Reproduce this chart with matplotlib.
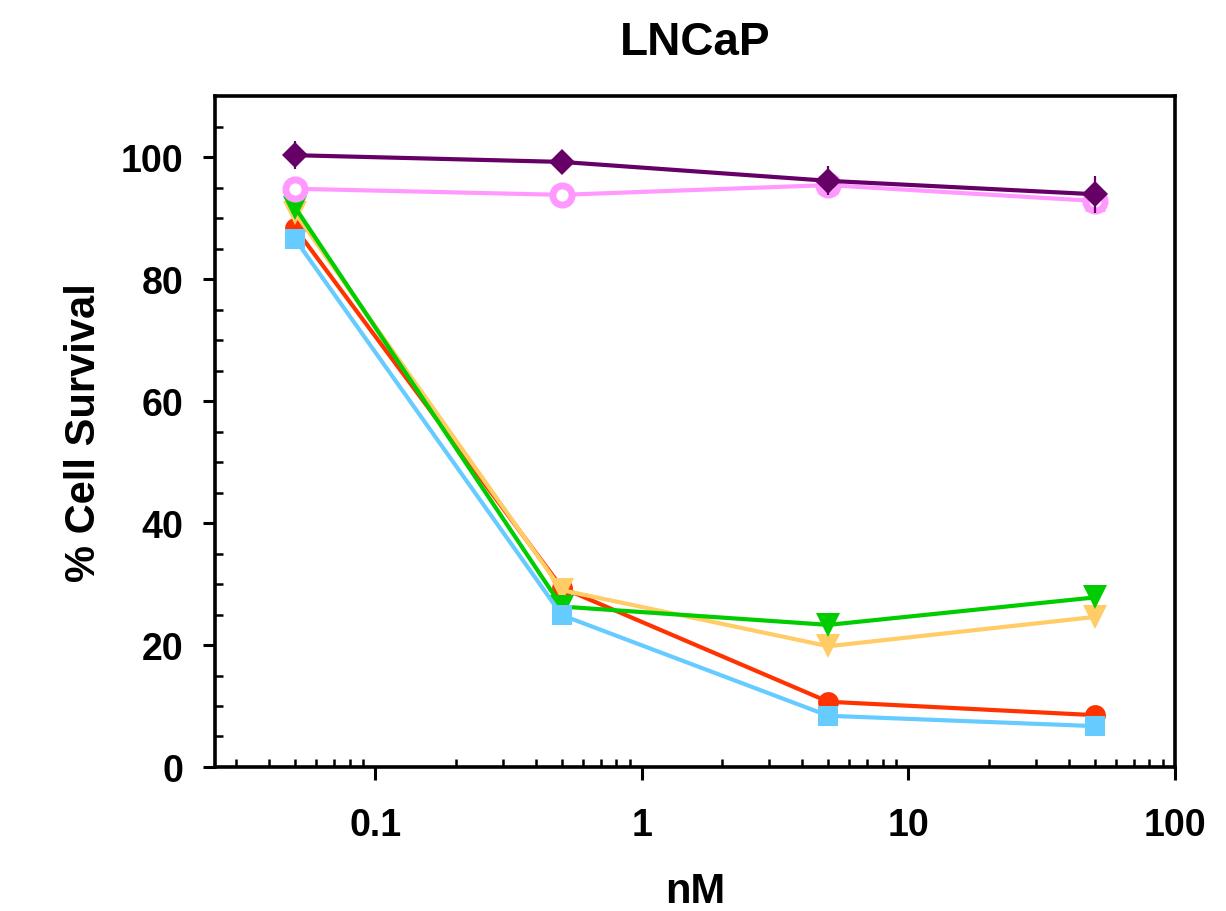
import matplotlib
matplotlib.use("Agg")
import matplotlib.pyplot as plt
from matplotlib.ticker import FixedLocator, NullFormatter, LogLocator

plt.rcParams['font.family'] = ['Liberation Sans', 'DejaVu Sans']
plt.rcParams['font.weight'] = 'bold'

doses = [0.05, 0.5, 5, 50]

red_vals = [88.3, 29.4, 10.7, 8.5]
red_err = [1.0, 0.8, 0.6, 0.6]
orange_vals = [90.8, 29.0, 19.8, 24.6]
orange_err = [1.2, 0.8, 1.2, 1.0]
green_vals = [91.7, 26.3, 23.3, 27.8]
green_err = [1.3, 0.8, 0.6, 1.0]
blue_vals = [86.5, 24.9, 8.4, 6.7]
blue_err = [0.8, 0.6, 0.5, 0.5]
pink_vals = [94.8, 93.8, 95.4, 92.8]
pink_err = [0.8, 0.8, 1.0, 1.2]
purple_vals = [100.3, 99.2, 96.1, 93.9]
purple_err = [2.3, 1.0, 2.4, 3.0]

x_ticks = [0.1, 1, 10, 100]
x_tick_labels = ["0.1", "1", "10", "100"]
y_ticks = [0, 20, 40, 60, 80, 100]
y_tick_labels = ["0", "20", "40", "60", "80", "100"]

fig = plt.figure(figsize=(12.26, 9.12), dpi=100)
ax = fig.add_axes([0.1754, 0.1579, 0.9584 - 0.1754, 0.8936 - 0.1579])

lw = 3.0
common = dict(linewidth=lw, elinewidth=1.6, capsize=7.5, capthick=1.6)

ax.errorbar(doses, red_vals, yerr=red_err, color='#FF3300', marker='o',
            markersize=15, markeredgewidth=0, zorder=3, **common)
ax.errorbar(doses, orange_vals, yerr=orange_err, color='#FFCC66', marker='v',
            markersize=17, markeredgewidth=0, zorder=4, **common)
ax.errorbar(doses, green_vals, yerr=green_err, color='#00CC00', marker='v',
            markersize=17, markeredgewidth=0, zorder=5, **common)
ax.errorbar(doses, blue_vals, yerr=blue_err, color='#66CCFF', marker='s',
            markersize=14.5, markeredgewidth=0, zorder=6, **common)
ax.errorbar(doses, pink_vals, yerr=pink_err, color='#FF99FF', marker='o',
            markersize=13.8, markerfacecolor='white', markeredgecolor='#FF99FF',
            markeredgewidth=5, zorder=7, **common)
ax.errorbar(doses, purple_vals, yerr=purple_err, color='#660066', marker='D',
            markersize=13.5, markeredgewidth=0, zorder=8, **common)

ax.set_xscale('log')
ax.set_xlim(0.025, 100)
ax.set_ylim(0, 110)

ax.xaxis.set_major_locator(FixedLocator(x_ticks))
ax.set_xticklabels(x_tick_labels)
ax.xaxis.set_minor_locator(LogLocator(base=10, subs=[2, 3, 4, 5, 6, 7, 8, 9], numticks=20))
ax.xaxis.set_minor_formatter(NullFormatter())

ax.yaxis.set_major_locator(FixedLocator(y_ticks))
ax.set_yticklabels(y_tick_labels)
ax.yaxis.set_minor_locator(FixedLocator(list(range(5, 110, 5))))

for s in ax.spines.values():
    s.set_linewidth(2.6)
    s.set_color('black')

ax.tick_params(which='major', direction='out', length=9, width=2.2,
               labelsize=27)
ax.tick_params(axis='x', which='major', pad=20)
ax.tick_params(axis='y', which='major', pad=14)
ax.tick_params(which='minor', direction='in', length=6, width=1.8)
ax.tick_params(axis='x', which='both', top=False)
ax.tick_params(axis='y', which='both', right=False)

for lab in ax.get_xticklabels() + ax.get_yticklabels():
    lab.set_fontweight('bold')

ax.set_xlabel('nM', fontsize=30, fontweight='bold', labelpad=20)
ax.set_ylabel('% Cell Survival', fontsize=30, fontweight='bold', labelpad=12)
ax.set_title('LNCaP', fontsize=33, fontweight='bold', pad=30)

fig.savefig('out.png', dpi=100)
